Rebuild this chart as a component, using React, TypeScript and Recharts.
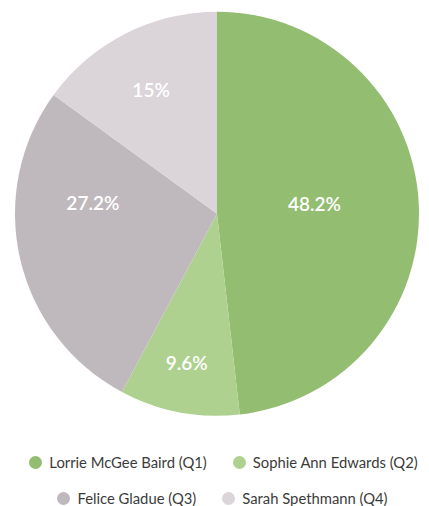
import React from "react";
import { PieChart, Pie, Cell, Legend } from "recharts";

const names = [
  "Lorrie McGee Baird (Q1)",
  "Sophie Ann Edwards (Q2)",
  "Felice Gladue (Q3)",
  "Sarah Spethmann (Q4)",
];
const shares = [48.2, 9.6, 27.2, 15];
const labels = ["48.2%", "9.6%", "27.2%", "15%"];
const colors = ["#93bd70", "#aed190", "#bfb9be", "#dbd5da"];

const data = names.map((name, i) => ({ name, value: shares[i], label: labels[i] }));

// label placement tweaks (fraction of radius, angle offset in degrees)
const labelRadius = [0.485, 0.75, 0.617, 0.695];
const labelAngleOffset = [3, -0.7, -18, 1];

const RAD = Math.PI / 180;

const renderLabel = (props: any) => {
  const { cx, cy, midAngle, outerRadius, index } = props;
  const r = outerRadius * labelRadius[index];
  const a = (midAngle + labelAngleOffset[index]) * RAD;
  const x = cx + r * Math.cos(a);
  const y = cy - r * Math.sin(a);
  return (
    <text
      x={x}
      y={y}
      fill="#ffffff"
      textAnchor="middle"
      dominantBaseline="central"
      fontFamily="Lato, 'Noto Sans', sans-serif"
      fontSize={19}
      fontWeight={600}
    >
      {data[index].label}
    </text>
  );
};

const LegendContent = () => {
  const rows = [
    [0, 1],
    [2, 3],
  ];
  return (
    <div style={{ width: 429, fontFamily: "Lato, 'Noto Sans', sans-serif" }}>
      {rows.map((row, ri) => (
        <div
          key={ri}
          style={{
            display: "flex",
            justifyContent: "center",
            alignItems: "center",
            height: 36,
            gap: 26,
            paddingLeft: ri === 0 ? 18 : 16,
          }}
        >
          {row.map((i) => (
            <div key={i} style={{ display: "flex", alignItems: "center" }}>
              <span
                style={{
                  width: 13,
                  height: 13,
                  borderRadius: "50%",
                  background: colors[i],
                  display: "inline-block",
                  marginRight: 7,
                }}
              />
              <span style={{ fontSize: 14.8, color: "#3b3b3b" }}>{names[i]}</span>
            </div>
          ))}
        </div>
      ))}
    </div>
  );
};

export default function App() {
  return (
    <div style={{ position: "absolute", left: 0, top: 0, width: 429, height: 506, background: "#fff" }}>
      <PieChart width={429} height={506} margin={{ top: 0, right: 0, bottom: 0, left: 0 }}>
        <Pie
          data={data}
          dataKey="value"
          nameKey="name"
          cx={217}
          cy={213.7}
          outerRadius={202}
          startAngle={90}
          endAngle={-270}
          stroke="none"
          label={renderLabel}
          labelLine={false}
          isAnimationActive={false}
        >
          {data.map((d, i) => (
            <Cell key={d.name} fill={colors[i]} stroke="none" />
          ))}
        </Pie>
        <Legend
          content={<LegendContent />}
          wrapperStyle={{ position: "absolute", left: 0, top: 444, width: 429 }}
        />
      </PieChart>
    </div>
  );
}
